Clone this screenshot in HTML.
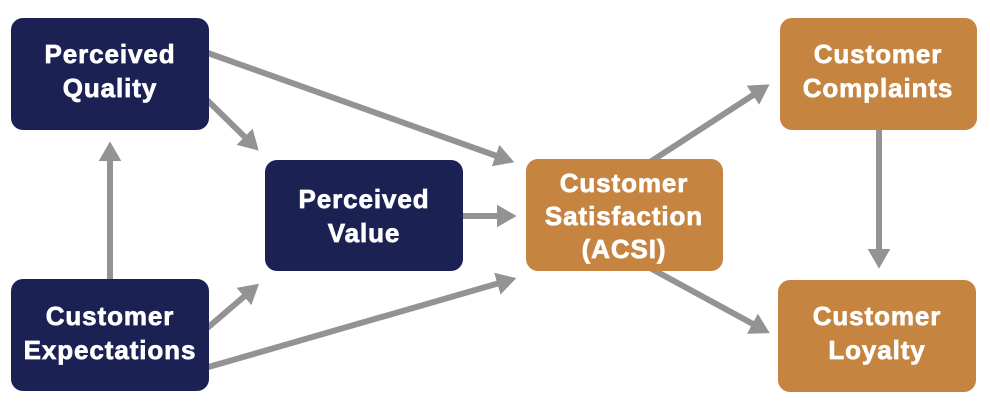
<!DOCTYPE html>
<html><head><meta charset="utf-8"><style>
html,body{margin:0;padding:0;background:#fff;width:990px;height:403px;overflow:hidden}
svg text{font-family:"Liberation Sans",sans-serif;font-weight:bold;font-size:26px;letter-spacing:0.9px;fill:#fff;stroke:#fff;stroke-width:0.7;text-anchor:middle}
</style></head><body>
<svg width="990" height="403" viewBox="0 0 990 403">
<defs><marker id="a" markerWidth="4" markerHeight="4" refX="2.2" refY="2" orient="auto" markerUnits="strokeWidth"><path d="M0,0.1 L3.3,2 L0,3.9 z" fill="#939393"/></marker></defs>
<g stroke="#939393" stroke-width="6" fill="none" marker-end="url(#a)">
<line x1="205" y1="98" x2="254" y2="146"/>
<line x1="205" y1="52" x2="508" y2="160"/>
<line x1="110" y1="282" x2="110" y2="148"/>
<line x1="205" y1="330" x2="254" y2="288"/>
<line x1="205" y1="368" x2="510" y2="280"/>
<line x1="460" y1="216" x2="510" y2="216"/>
<line x1="650" y1="162" x2="764" y2="88"/>
<line x1="650" y1="268" x2="764" y2="330"/>
<line x1="879" y1="128" x2="879" y2="262"/>
</g>
<g fill="#1c2153">
<rect x="11" y="18" width="198" height="112" rx="12"/>
<rect x="11" y="279" width="198" height="112" rx="12"/>
<rect x="265" y="160" width="198" height="111" rx="12"/>
</g>
<g fill="#c58440">
<rect x="526" y="159" width="197" height="112" rx="12"/>
<rect x="780" y="18" width="197" height="112" rx="12"/>
<rect x="778" y="280" width="198" height="112" rx="12"/>
</g>
<text x="110" y="63">Perceived</text><text x="110" y="97">Quality</text>
<text x="110" y="325">Customer</text><text x="110" y="359">Expectations</text>
<text x="364" y="208">Perceived</text><text x="364" y="242">Value</text>
<text x="624" y="192">Customer</text><text x="624" y="225">Satisfaction</text><text x="624" y="258">(ACSI)</text>
<text x="878" y="63">Customer</text><text x="878" y="97">Complaints</text>
<text x="877" y="325">Customer</text><text x="877" y="359">Loyalty</text>
</svg>
</body></html>
